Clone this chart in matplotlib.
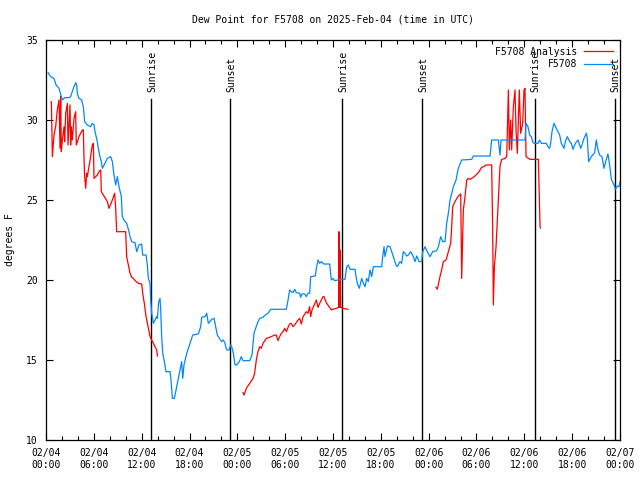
import numpy as np
import matplotlib
matplotlib.use('Agg')
import matplotlib.pyplot as plt
from matplotlib.ticker import MultipleLocator, FuncFormatter

# hours since 2025-02-04 00:00 UTC and dew point (degrees F)
obs_hours = [0.25, 0.59, 1.0, 1.26, 1.63, 1.92, 2.05, 2.34, 2.89, 3.09, 3.43, 3.72, 3.85, 3.93,
             4.14, 4.47, 4.68, 4.85, 5.18, 5.6, 5.81, 6.02, 6.15, 6.44, 6.56, 6.77, 6.94, 7.07,
             7.28, 7.69, 8.11, 8.32, 8.53, 8.74, 8.95, 9.16, 9.45, 9.57, 9.78, 10.12, 10.41,
             10.54, 10.75, 11.17, 11.38, 11.67, 12.0, 12.13, 12.55, 12.71, 12.84, 13.05, 13.13,
             13.26, 13.47, 13.68, 13.88, 13.97, 14.14, 14.3, 14.39, 14.51, 14.64, 14.85, 15.06,
             15.56, 15.68, 15.85, 16.1, 16.39, 16.73, 17.02, 17.15, 17.31, 17.65, 18.07, 18.4,
             19.11, 19.4, 19.53, 19.95, 20.16, 20.36, 20.57, 20.78, 21.08, 21.33, 21.49, 21.83,
             22.04, 22.25, 22.45, 22.66, 22.96, 23.17, 23.29, 23.5, 23.71, 23.92, 24.25, 24.5,
             24.71, 25.55, 25.84, 26.09, 26.51, 26.8, 27.22, 27.51, 27.85, 28.18, 30.15, 30.36,
             30.56, 30.77, 30.98, 31.19, 31.4, 31.82, 31.94, 32.11, 32.45, 32.65, 32.86, 33.07,
             33.2, 33.78, 33.91, 34.12, 34.33, 34.54, 34.83, 35.58, 35.79, 36.0, 36.21, 36.63,
             37.04, 37.5, 37.72, 37.93, 38.13, 38.76, 38.89, 39.05, 39.3, 39.6, 39.81, 40.02,
             40.22, 40.43, 40.64, 40.85, 41.06, 41.27, 42.11, 42.23, 42.4, 42.52, 42.82, 43.15,
             43.36, 43.57, 43.9, 44.07, 44.4, 44.61, 44.82, 45.03, 45.24, 45.45, 45.74, 46.08,
             46.29, 46.5, 46.79, 47.12, 47.25, 47.54, 47.83, 48.17, 48.5, 49.0, 49.22, 49.51,
             49.76, 50.05, 50.26, 50.47, 50.68, 51.1, 51.43, 51.72, 52.14, 53.4, 53.6, 55.7,
             55.9, 56.74, 56.95, 57.07, 60.08, 60.21, 60.46, 60.67, 60.88, 61.09, 61.3, 61.71,
             61.92, 62.13, 62.76, 62.97, 63.18, 63.3, 63.47, 63.72, 64.01, 64.43, 64.64, 64.98,
             65.14, 65.39, 65.69, 65.9, 66.1, 66.4, 66.73, 67.07, 67.23, 67.48, 67.78, 67.9,
             68.07, 68.4, 68.82, 69.03, 69.24, 69.45, 69.74, 69.99, 70.2, 70.49, 70.7, 70.91,
             71.25, 71.41, 71.66, 71.87, 72.08]
obs_dewpt = [32.96, 32.71, 32.6, 32.19, 31.98, 31.46, 31.25, 31.4, 31.4, 31.46, 31.98, 32.33, 32.19, 31.67,
             31.35, 31.25, 30.83, 29.9, 29.69, 29.58, 29.79, 29.69, 29.27, 28.65, 28.23, 27.71, 27.4, 26.98,
             27.19, 27.6, 27.71, 27.4, 26.56, 25.94, 26.46, 25.83, 25.21, 23.96, 23.75, 23.54, 23.02,
             22.71, 22.4, 22.33, 21.77, 22.19, 22.25, 21.56, 21.56, 20.94, 20.1, 19.79, 18.75,
             17.92, 17.29, 17.5, 17.71, 17.6, 18.65, 18.85, 18.13, 16.46, 15.42, 14.9, 14.27,
             14.27, 13.75, 12.6, 12.6, 13.33, 14.17, 14.9, 13.85, 14.69, 15.42, 16.04, 16.56,
             16.63, 17.08, 17.67, 17.71, 17.92, 17.29, 17.4, 17.54, 17.6, 16.98, 16.56, 16.29,
             16.15, 16.25, 16.04, 15.63, 15.63, 15.94, 15.83, 15.42, 14.69, 14.69, 14.9, 15.21,
             14.96, 14.96, 15.31, 16.67, 17.29, 17.6, 17.67, 17.81, 17.92, 18.17, 18.17, 18.75,
             19.38, 19.27, 19.21, 19.42, 19.21, 19.17, 18.92, 19.13, 19.13, 18.96, 19.17, 19.17,
             20.21, 20.25, 20.73, 21.25, 21.04, 21.15, 21.0, 21.0, 20.0, 20.1, 19.96, 20.0,
             20.04, 20.04, 20.83, 20.94, 20.67, 20.67, 20.21, 19.79, 19.48, 20.1, 19.79, 19.58,
             20.1, 19.9, 20.63, 20.21, 20.83, 20.83, 20.83, 21.46, 22.08, 21.46, 22.13, 22.08,
             21.77, 21.46, 20.94, 20.83, 21.15, 21.04, 21.77, 21.67, 21.5, 21.56, 21.77, 21.46,
             21.15, 21.5, 21.15, 21.15, 21.77, 22.08, 21.77, 21.46, 21.77, 21.83, 22.08, 22.71,
             22.4, 22.4, 23.54, 24.17, 25.0, 25.83, 26.25, 26.98, 27.5, 27.54, 27.75, 27.75,
             28.75, 28.75, 27.81, 28.75, 28.75, 29.79, 29.58, 29.06, 28.96, 28.58, 28.54, 28.54,
             28.75, 28.54, 28.54, 28.33, 28.23, 28.54, 29.27, 29.79, 29.48, 29.06, 28.54, 28.23,
             28.65, 28.96, 28.65, 28.54, 28.17, 28.54, 28.75, 28.23, 28.44, 28.85, 29.17, 28.85,
             27.4, 27.71, 27.96, 28.75, 28.13, 27.81, 27.71, 26.98, 27.4, 27.88, 27.19, 26.29,
             25.94, 25.67, 25.88, 25.83, 26.29]

# analysis series, NaN marks the gaps between runs
ana_hours = [0.67, 0.8, 1.0, 1.21, 1.42, 1.63, 1.76, 1.84, 1.92, 2.05, 2.26, 2.34, 2.47, 2.68,
             2.76, 2.89, 3.01, 3.09, 3.18, 3.3, 3.51, 3.72, 3.8, 4.14, 4.56, 4.68, 4.77, 4.85,
             4.98, 5.1, 5.18, 5.39, 5.6, 5.81, 5.94, 6.02, 6.44, 6.65, 6.86, 6.94, 7.19, 7.69,
             7.9, 8.32, 8.61, 8.74, 8.86, 9.99, 10.12, 10.54, 10.75, 10.96, 11.17, 11.59, 12.0,
             12.13, 12.3, 12.55, 12.84, 13.05, 13.26, 13.47, 13.68, 13.88, 13.97,
             19.0,
             24.71, 24.84, 25.13, 25.55, 25.84, 25.97, 26.17, 26.38, 26.59, 26.8, 27.01, 27.22,
             27.64, 28.06, 28.68, 28.89, 29.1, 29.31, 29.52, 29.73, 29.94, 30.15, 30.36, 30.56,
             30.77, 30.98, 31.19, 31.61, 31.82, 32.03, 32.24, 32.65, 32.86, 33.07, 33.2, 33.37,
             33.7, 33.91, 34.12, 34.33, 34.75, 34.87, 35.16, 35.58, 35.79, 36.0, 36.42, 36.71,
             36.75, 36.83, 36.88, 36.96, 37.25, 37.88,
             43.0,
             48.92, 49.09, 49.22, 49.42, 49.63, 49.84, 50.18, 50.47, 50.76, 50.89, 51.01, 51.3,
             51.72, 52.02, 52.14, 52.27, 52.35, 52.56, 52.77, 52.98, 53.19, 53.4, 53.81, 54.23,
             54.65, 55.07, 55.19, 55.9, 56.03, 56.11, 56.24, 56.45, 56.74, 56.95, 57.16, 57.58,
             57.79, 58.0, 58.12, 58.29, 58.41, 58.62, 58.83, 58.96, 59.12, 59.37, 59.54, 59.79,
             59.96, 60.08, 60.21, 60.71, 61.55, 61.76, 61.97, 62.02]
ana_dewpt = [31.15, 27.71, 29.06, 29.58, 30.63, 31.25, 28.23, 31.46, 28.02, 28.75, 29.58, 28.65, 30.42, 31.04,
             28.44, 29.79, 30.94, 28.44, 29.58, 28.75, 30.1, 30.52, 28.44, 28.96, 29.38, 29.38, 27.6, 26.46,
             25.73, 26.67, 26.46, 27.08, 27.71, 28.44, 28.54, 26.35, 26.56, 26.77, 26.88, 25.52, 25.31, 24.9,
             24.48, 25.0, 25.42, 24.48, 23.02, 23.02, 21.46, 20.42, 20.17, 20.1, 19.96, 19.79, 19.75,
             19.17, 18.65, 17.71, 16.98, 16.46, 16.25, 16.04, 15.83, 15.63, 15.25,
             np.nan,
             12.96, 12.81, 13.23, 13.54, 13.75, 13.85, 14.17, 15.0, 15.52, 15.83, 15.73, 16.04,
             16.35, 16.42, 16.56, 16.56, 16.21, 16.46, 16.67, 16.77, 16.98, 16.77, 17.04, 17.25,
             17.29, 17.08, 17.19, 17.5, 17.6, 17.25, 17.71, 18.02, 17.92, 18.33, 17.71, 18.13,
             18.5, 18.75, 18.29, 18.54, 18.96, 18.96, 18.58, 18.29, 18.13, 18.17, 18.23, 18.29,
             23.02, 18.29, 21.88, 18.29, 18.23, 18.17,
             np.nan,
             19.54, 19.42, 19.75, 20.21, 20.63, 21.15, 21.25, 21.77, 22.29, 23.33, 24.58, 24.9,
             25.25, 25.38, 20.1, 22.71, 24.38, 25.21, 26.25, 26.35, 26.29, 26.35, 26.5, 26.71,
             27.04, 27.13, 27.19, 27.19, 23.13, 18.44, 20.83, 22.08, 25.0, 27.13, 27.54, 27.6,
             27.71, 31.88, 28.13, 30.0, 28.13, 30.83, 31.88, 29.38, 27.92, 31.88, 29.17, 29.79,
             31.88, 31.98, 27.71, 27.54, 27.54, 27.54, 23.33, 23.25]

# sunrise / sunset markers (hours since start)
sun_hours = [13.2, 23.1, 37.17, 47.2, 61.3, 71.37]
sun_labels = ['Sunrise', 'Sunset', 'Sunrise', 'Sunset', 'Sunrise', 'Sunset']

day_labels = ['02/04', '02/05', '02/06', '02/07']

mono = 'DejaVu Sans Mono'
fs = 7

fig = plt.figure(figsize=(6.4, 4.8), dpi=100)
ax = fig.add_axes([46/640, 40/480, 574/640, 400/480])

# sunrise/sunset lines with rotated labels
for h, lab in zip(sun_hours, sun_labels):
    ax.plot([h, h], [10, 31.3], color='black', linewidth=1.0, zorder=1)
    ax.text(h + 0.1, 31.75, lab, rotation=90, ha='center', va='bottom',
            family=mono, fontsize=fs)

ax.plot(ana_hours, ana_dewpt, color='#ff0000', linewidth=0.9, label='F5708 Analysis', zorder=2)
ax.plot(obs_hours, obs_dewpt, color='#0088ff', linewidth=0.9, label='F5708', zorder=3)

ax.set_xlim(0, 72)
ax.set_ylim(10, 35)

# x ticks every 6 hours, minor every 2
ax.xaxis.set_major_locator(MultipleLocator(6))
ax.xaxis.set_minor_locator(MultipleLocator(2))
ax.yaxis.set_major_locator(MultipleLocator(5))

def fmt_time(x, pos):
    day = int(x // 24)
    hr = int(round(x - day * 24))
    return f"{day_labels[day]}\n{hr:02d}:00"

ax.xaxis.set_major_formatter(FuncFormatter(fmt_time))

ax.tick_params(which='both', direction='in', top=True, right=True, width=0.8)
ax.tick_params(which='major', length=5, labelsize=fs, pad=6)
ax.tick_params(which='minor', length=3)
for lbl in ax.get_xticklabels() + ax.get_yticklabels():
    lbl.set_family(mono)
for s in ax.spines.values():
    s.set_linewidth(0.9)

ax.text(0.5, 1.05, 'Dew Point for F5708 on 2025-Feb-04 (time in UTC)', transform=ax.transAxes,
        ha='center', va='center', family=mono, fontsize=fs)
fig.text(10/640, 0.5, 'degrees F', rotation=90, ha='center', va='center', family=mono, fontsize=fs)

leg = ax.legend(loc='upper right', frameon=False, markerfirst=False, handlelength=3.0,
                handletextpad=0.7, labelspacing=0.25, borderaxespad=0.3,
                prop={'family': mono, 'size': fs})

fig.savefig('out.png', dpi=100)
